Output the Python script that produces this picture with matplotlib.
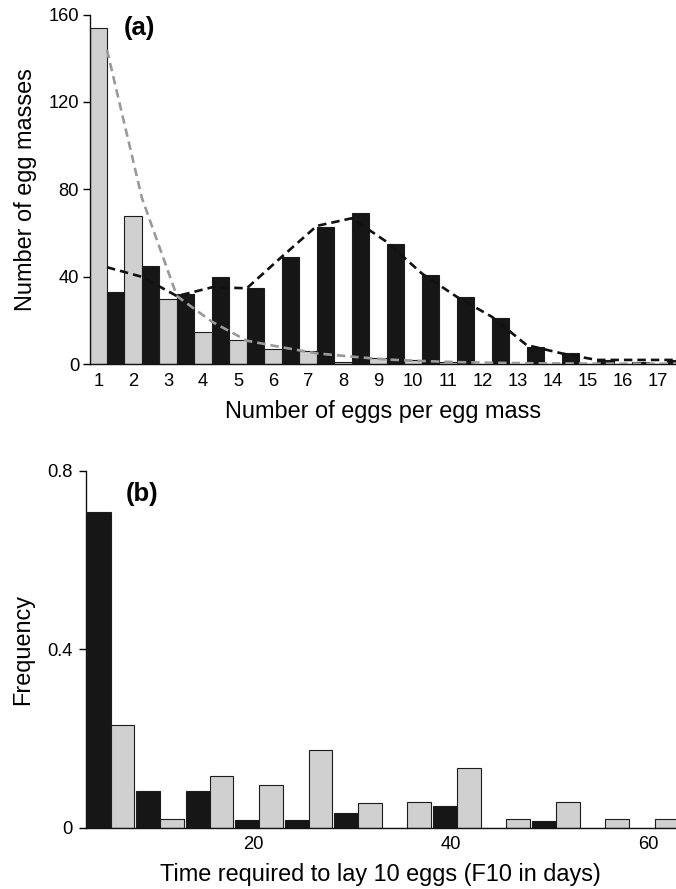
import matplotlib
matplotlib.use("Agg")
import matplotlib.pyplot as plt
import numpy as np

plt.rcParams['font.family'] = ['Liberation Sans', 'DejaVu Sans']

# ---------------- Panel (a) data ----------------
eggs_per_mass = list(range(1, 18))
a_gray = [154, 68, 30, 15, 11, 7, 6, 1, 3, 2, 1, 0, 0, 0, 0, 0, 0]
a_black = [33, 45, 32, 40, 35, 49, 63, 69, 55, 41, 31, 21, 8, 5, 2, 1, 2]
fit_black = [44.4, 40, 31.2, 35.2, 34.8, 49.2, 63.3, 66.8, 56, 41.6, 30.9,
             21.8, 8.8, 5, 2, 2, 2]
fit_gray = [143.8, 76, 31.2, 19.5, 10.8, 7.8, 5, 3.5, 2.2, 1.5, 1, 0.7,
            0.5, 0.4, 0.3, 0.3, 0.3]
a_yticks = [0, 40, 80, 120, 160]

# ---------------- Panel (b) data ----------------
bin_starts = [3, 8, 13, 18, 23, 28, 33, 38, 43, 48, 53, 58]
b_black = [0.707, 0.083, 0.083, 0.017, 0.017, 0.032, 0.0, 0.049, 0.0, 0.016, 0.0, 0.0]
b_gray = [0.231, 0.019, 0.115, 0.095, 0.173, 0.056, 0.057, 0.134, 0.019, 0.057, 0.019, 0.019]
b_xticks = [20, 40, 60]
b_yticks = [0, 0.4, 0.8]
b_yticklabels = ["0", "0.4", "0.8"]

BLACK = "#161616"
GRAY = "#d0d0d0"
EDGE = "#1c1c1c"
LINEGRAY = "#9a9a9a"

W, H = 676, 889
fig = plt.figure(figsize=(W / 100, H / 100), dpi=100)

def style(ax):
    for s in ("top", "right"):
        ax.spines[s].set_visible(False)
    for s in ("left", "bottom"):
        ax.spines[s].set_linewidth(1.0)
        ax.spines[s].set_color("#111111")

TICK_FS = 13.2
LABEL_FS = 16.9
PANEL_FS = 18.5

# ---- (a)
ax1 = fig.add_axes([89.5 / W, 1 - 364.3 / H, (W - 89.5) / W, (364.3 - 14.5) / H])
x = np.array(eggs_per_mass, dtype=float)
ax1.bar(x, a_gray, width=0.5, color=GRAY, edgecolor=EDGE, linewidth=0.8, zorder=2)
ax1.bar(x + 0.5, a_black, width=0.5, color=BLACK, edgecolor=EDGE, linewidth=0.8, zorder=2)
ls = (0, (3.2, 1.9))
ax1.plot(list(x + 0.25) + [17.7], fit_gray + [fit_gray[-1]], color=LINEGRAY,
         lw=1.9, linestyle=ls, zorder=3)
ax1.plot(list(x + 0.25) + [17.7], fit_black + [fit_black[-1]], color="#111111",
         lw=1.9, linestyle=ls, zorder=4)
ax1.set_xlim(0.75, 0.75 + (W - 89.5) / 34.97)
ax1.set_ylim(0, 160)
ax1.set_xticks(eggs_per_mass)
ax1.set_yticks(a_yticks)
style(ax1)
ax1.tick_params(axis="x", length=0, pad=6, labelsize=TICK_FS)
ax1.tick_params(axis="y", length=5, width=1, pad=2.5, labelsize=TICK_FS)
ax1.set_xlabel("Number of eggs per egg mass", fontsize=LABEL_FS, labelpad=7.5)
ax1.set_ylabel("Number of egg masses", fontsize=LABEL_FS, labelpad=8.5)
fig.text(124 / W, 1 - 28 / H, "(a)", fontsize=PANEL_FS, fontweight="bold",
         ha="left", va="center")

# ---- (b)
ax2 = fig.add_axes([85.5 / W, 1 - 827.7 / H, (W - 85.5) / W, (827.7 - 470.7) / H])
bs = np.array(bin_starts, dtype=float)
ax2.bar(bs + 1.4, b_black, width=2.4, color=BLACK, edgecolor=EDGE, linewidth=0.8, zorder=2)
ax2.bar(bs + 3.8, b_gray, width=2.4, color=GRAY, edgecolor=EDGE, linewidth=0.8, zorder=2)
ax2.set_xlim(3.05, 3.05 + (W - 85.5) / 9.89)
ax2.set_ylim(0, 0.8)
ax2.set_xticks(b_xticks)
ax2.set_yticks(b_yticks)
ax2.set_yticklabels(b_yticklabels)
style(ax2)
ax2.tick_params(axis="x", length=0, pad=6, labelsize=TICK_FS)
ax2.tick_params(axis="y", length=5, width=1, pad=4.5, labelsize=TICK_FS)
ax2.set_xlabel("Time required to lay 10 eggs (F10 in days)", fontsize=LABEL_FS, labelpad=7)
ax2.set_ylabel("Frequency", fontsize=LABEL_FS, labelpad=9.5)
fig.text(126 / W, 1 - 494 / H, "(b)", fontsize=PANEL_FS, fontweight="bold",
         ha="left", va="center")

fig.savefig("out.png", dpi=100)
